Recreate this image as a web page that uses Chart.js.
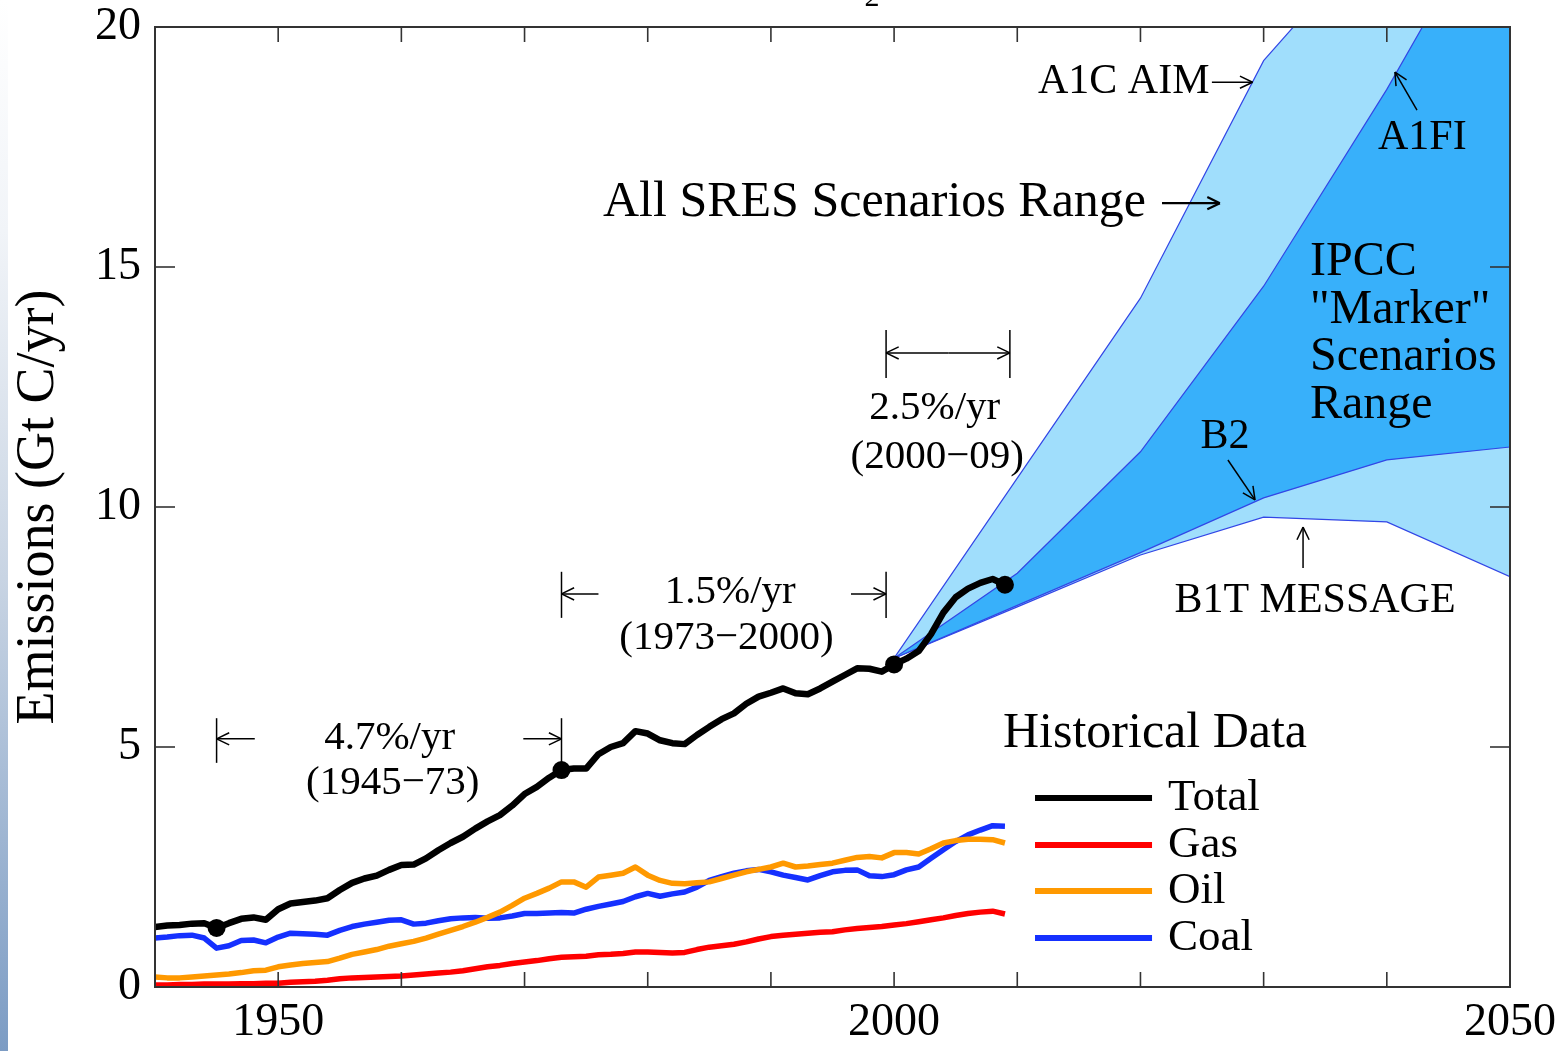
<!DOCTYPE html>
<html>
<head>
<meta charset="utf-8">
<script src="https://cdn.jsdelivr.net/npm/chart.js@4.4.1/dist/chart.umd.min.js"></script>
<style>
  html, body { margin: 0; padding: 0; background: #fff; overflow: hidden; }
  #wrap { position: relative; width: 1568px; height: 1051px; }
  #stripe { position: absolute; left: 0; top: 0; width: 8px; height: 1051px;
    background: linear-gradient(to bottom, #ffffff 0%, #f1f4f8 22%, #c8d4e3 55%, #7c9cc4 100%); }
  canvas { position: absolute; left: 0; top: 0; }
</style>
</head>
<body>
<div id="wrap"><div id="stripe"></div><canvas id="chart" width="1568" height="1051"></canvas></div>
<script>
// historical data, Gt C / yr, 1940-2009
const years = [];
for (let y = 1940; y <= 2009; y++) years.push(y);

const total = [1.25, 1.28, 1.29, 1.32, 1.33, 1.23, 1.33, 1.42, 1.45, 1.40,
  1.62, 1.74, 1.77, 1.80, 1.85, 2.02, 2.17, 2.26, 2.32, 2.44,
  2.54, 2.55, 2.68, 2.85, 3.00, 3.13, 3.30, 3.45, 3.58, 3.78,
  4.02, 4.17, 4.36, 4.52, 4.55, 4.55, 4.85, 5.00, 5.08, 5.33,
  5.28, 5.14, 5.08, 5.06, 5.25, 5.42, 5.58, 5.70, 5.90, 6.05,
  6.13, 6.22, 6.12, 6.10, 6.22, 6.36, 6.50, 6.64, 6.63, 6.57,
  6.72, 6.84, 7.00, 7.35, 7.80, 8.12, 8.30, 8.42, 8.50, 8.38];

const gas = [0.04, 0.04, 0.05, 0.05, 0.06, 0.06, 0.06, 0.07, 0.07, 0.08,
  0.08, 0.10, 0.11, 0.12, 0.14, 0.17, 0.19, 0.20, 0.21, 0.22,
  0.23, 0.25, 0.27, 0.29, 0.31, 0.34, 0.38, 0.42, 0.45, 0.49,
  0.52, 0.55, 0.59, 0.62, 0.63, 0.64, 0.67, 0.68, 0.70, 0.73,
  0.73, 0.72, 0.71, 0.72, 0.78, 0.83, 0.86, 0.89, 0.94, 1.00,
  1.05, 1.08, 1.10, 1.12, 1.14, 1.15, 1.19, 1.22, 1.24, 1.26,
  1.29, 1.32, 1.36, 1.40, 1.44, 1.49, 1.53, 1.56, 1.58, 1.52];

const oil = [0.21, 0.19, 0.19, 0.21, 0.23, 0.25, 0.27, 0.30, 0.34, 0.35,
  0.42, 0.46, 0.49, 0.51, 0.53, 0.60, 0.68, 0.73, 0.78, 0.85,
  0.90, 0.95, 1.02, 1.10, 1.18, 1.26, 1.35, 1.45, 1.56, 1.70,
  1.85, 1.95, 2.06, 2.19, 2.19, 2.08, 2.29, 2.33, 2.37, 2.50,
  2.33, 2.22, 2.16, 2.15, 2.17, 2.19, 2.26, 2.33, 2.40, 2.45,
  2.50, 2.58, 2.50, 2.52, 2.55, 2.58, 2.64, 2.70, 2.72, 2.69,
  2.80, 2.80, 2.77, 2.88, 3.00, 3.05, 3.08, 3.08, 3.07, 3.00];

const coal = [1.02, 1.04, 1.07, 1.08, 1.02, 0.81, 0.86, 0.97, 0.98, 0.92,
  1.04, 1.12, 1.11, 1.10, 1.08, 1.18, 1.26, 1.31, 1.35, 1.39,
  1.40, 1.31, 1.33, 1.38, 1.42, 1.44, 1.45, 1.43, 1.44, 1.48,
  1.53, 1.53, 1.54, 1.55, 1.54, 1.62, 1.68, 1.73, 1.78, 1.88,
  1.95, 1.89, 1.94, 1.98, 2.08, 2.22, 2.30, 2.37, 2.42, 2.45,
  2.40, 2.33, 2.28, 2.23, 2.32, 2.40, 2.43, 2.44, 2.32, 2.30,
  2.34, 2.44, 2.50, 2.68, 2.86, 3.03, 3.17, 3.27, 3.36, 3.35];

const markerYears = [1945, 1973, 2000, 2009];

// SRES scenario envelopes
const scenYears = [2000, 2010, 2020, 2030, 2040, 2050];
const sresHigh = [6.85, 10.6, 14.35, 19.3, 22.2, 25.8];   // A1C AIM
const a1fi     = [6.85, 8.62, 11.15, 14.6, 18.7, 23.2];
const b2       = [6.85, 7.95, 9.05, 10.19, 10.98, 11.25];
const b1t      = [6.85, 7.92, 9.0, 9.79, 9.69, 8.55];     // B1T MESSAGE

const xTickLabels = [1950, 2000, 2050];
const xMinor = [1950, 1960, 1970, 1980, 1990, 2000, 2010, 2020, 2030, 2040];
const yTickLabels = [0, 5, 10, 15, 20];
const yMinor = [5, 10, 15];

const FONT = '"Liberation Serif", "Times New Roman", serif';
const LIGHT = 'rgb(160,222,252)';
const DARK = 'rgb(56,176,250)';
const EDGE = 'rgb(50,70,230)';

function pts(xs, ys) {
  return xs.map((x, i) => ({ x: x, y: ys[i] }));
}

function histLine(label, values, color, width, order) {
  return {
    label: label, data: pts(years, values), borderColor: color, backgroundColor: color,
    borderWidth: width, pointRadius: 0, fill: false, order: order, borderJoinStyle: 'round'
  };
}

function envLine(label, values, fillTarget, color, order) {
  return {
    label: label, data: pts(scenYears, values), borderColor: EDGE, borderWidth: 1.2,
    backgroundColor: color, pointRadius: 0, fill: fillTarget, order: order
  };
}

const overlay = {
  id: 'overlay',
  afterDraw(chart) {
    const ctx = chart.ctx, a = chart.chartArea;
    const xs = chart.scales.x, ys = chart.scales.y;
    const X = v => xs.getPixelForValue(v), Y = v => ys.getPixelForValue(v);

    function seg(x1, y1, x2, y2) {
      ctx.beginPath(); ctx.moveTo(x1, y1); ctx.lineTo(x2, y2); ctx.stroke();
    }
    function head(x1, y1, x2, y2) {
      const ang = Math.atan2(y2 - y1, x2 - x1), L = 14;
      seg(x2, y2, x2 - L * Math.cos(ang - 0.45), y2 - L * Math.sin(ang - 0.45));
      seg(x2, y2, x2 - L * Math.cos(ang + 0.45), y2 - L * Math.sin(ang + 0.45));
    }
    function arrow(x1, y1, x2, y2) {
      const p1 = [X(x1), Y(y1)], p2 = [X(x2), Y(y2)];
      seg(p1[0], p1[1], p2[0], p2[1]);
      head(p1[0], p1[1], p2[0], p2[1]);
    }
    function bar(x, v1, v2) { seg(X(x), Y(v1), X(x), Y(v2)); }
    function text(s, x, v, size, align) {
      ctx.font = size + 'px ' + FONT;
      ctx.textAlign = align || 'center';
      ctx.textBaseline = 'middle';
      ctx.fillText(s, X(x), Y(v));
    }

    ctx.save();
    // frame and inward ticks
    ctx.strokeStyle = '#333';
    ctx.lineWidth = 2;
    ctx.strokeRect(a.left, a.top, a.right - a.left, a.bottom - a.top);
    ctx.lineWidth = 1.6;
    xMinor.forEach(v => {
      seg(X(v), a.bottom, X(v), a.bottom - 15);
      seg(X(v), a.top, X(v), a.top + 15);
    });
    yMinor.forEach(v => {
      seg(a.left, Y(v), a.left + 20, Y(v));
      seg(a.right, Y(v), a.right - 20, Y(v));
    });

    // growth-rate brackets
    ctx.strokeStyle = '#000';
    ctx.fillStyle = '#000';
    ctx.lineWidth = 1.5;
    bar(1945, 5.60, 4.67); bar(1973, 5.60, 4.67);
    arrow(1948.1, 5.17, 1945, 5.17); arrow(1969.9, 5.17, 1973, 5.17);
    bar(1973, 8.65, 7.69); bar(1999.35, 8.65, 7.69);
    arrow(1976, 8.19, 1973, 8.19); arrow(1996.5, 8.19, 1999.35, 8.19);
    bar(1999.35, 13.69, 12.69); bar(2009.4, 13.69, 12.69);
    arrow(2004.4, 13.21, 1999.35, 13.21); arrow(2004.4, 13.21, 2009.4, 13.21);

    text('4.7%/yr', 1959.05, 5.19, 41);
    text('(1945\u221273)', 1959.3, 4.25, 41);
    text('1.5%/yr', 1986.7, 8.23, 41);
    text('(1973\u22122000)', 1986.4, 7.27, 41);
    text('2.5%/yr', 2003.3, 12.06, 41);
    text('(2000\u221209)', 2003.5, 11.04, 41);

    // scenario labels
    text('All SRES Scenarios Range', 1976.37, 16.33, 50, 'left');
    ctx.lineWidth = 2.2;
    arrow(2021.75, 16.33, 2026.45, 16.33);
    ctx.lineWidth = 1.5;
    text('A1C AIM', 2011.68, 18.85, 42, 'left');
    arrow(2025.8, 18.85, 2029.1, 18.85);
    text('A1FI', 2039.28, 17.69, 42, 'left');
    arrow(2042.45, 18.27, 2040.66, 19.06);
    text('IPCC', 2033.76, 15.10, 48, 'left');
    text('"Marker"', 2033.76, 14.10, 48, 'left');
    text('Scenarios', 2033.76, 13.125, 48, 'left');
    text('Range', 2033.76, 12.125, 48, 'left');
    text('B2', 2026.86, 11.46, 42);
    arrow(2027.1, 10.98, 2029.3, 10.15);
    text('B1T MESSAGE', 2034.17, 8.04, 42);
    arrow(2033.2, 8.73, 2033.2, 9.58);

    // legend
    text('Historical Data', 2008.84, 5.27, 50, 'left');
    const rows = [3.94, 2.96, 2.0, 1.02];
    [0, 1, 2, 3].forEach((di, i) => {
      const ds = chart.data.datasets[di];
      ctx.strokeStyle = ds.borderColor;
      ctx.lineWidth = 6;
      seg(X(2011.44), Y(rows[i]), X(2020.94), Y(rows[i]));
      ctx.fillStyle = '#000';
      text(ds.label, 2022.24, rows[i], 45, 'left');
    });

    // clipped title subscript at the top edge
    ctx.font = '30px ' + FONT;
    ctx.textAlign = 'center';
    ctx.textBaseline = 'alphabetic';
    ctx.fillText('2', X(1998.2), a.top - 21);
    ctx.restore();
  }
};

new Chart(document.getElementById('chart').getContext('2d'), {
  type: 'line',
  data: {
    datasets: [
      histLine('Total', total, '#000000', 6.5, 1),
      histLine('Gas', gas, '#ff0000', 5.5, 2),
      histLine('Oil', oil, '#ff9900', 5.5, 3),
      histLine('Coal', coal, '#1530ff', 5.5, 4),
      {
        label: 'markers',
        data: markerYears.map(y => ({ x: y, y: total[years.indexOf(y)] })),
        showLine: false, pointRadius: 9, pointBackgroundColor: '#000', pointBorderWidth: 0, order: 0
      },
      envLine('A1FI', a1fi, 6, DARK, 7),
      envLine('B2', b2, false, DARK, 6),
      envLine('A1C AIM', sresHigh, 8, LIGHT, 9),
      envLine('B1T MESSAGE', b1t, false, LIGHT, 8)
    ]
  },
  options: {
    responsive: false,
    animation: false,
    devicePixelRatio: 1,
    layout: { padding: { top: 27, right: 58, left: 0, bottom: 0 } },
    plugins: { legend: { display: false }, tooltip: { enabled: false } },
    scales: {
      x: {
        type: 'linear', min: 1940, max: 2050,
        grid: { display: false, drawTicks: false },
        border: { display: false },
        afterBuildTicks: s => { s.ticks = xTickLabels.map(v => ({ value: v })); },
        afterFit: s => { s.height = 64; },
        ticks: { color: '#000', padding: 8, maxRotation: 0, autoSkip: false,
          font: { family: FONT, size: 46 }, callback: v => String(v) }
      },
      y: {
        min: 0, max: 20,
        grid: { display: false, drawTicks: false },
        border: { display: false },
        afterBuildTicks: s => { s.ticks = yTickLabels.map(v => ({ value: v })); },
        afterFit: s => { s.width = 155; },
        ticks: { color: '#000', padding: 14, font: { family: FONT, size: 46, lineHeight: 0.5 } },
        title: { display: true, text: 'Emissions (Gt C/yr)', color: '#000',
          padding: { top: 6, bottom: 0 }, font: { family: FONT, size: 54 } }
      }
    }
  },
  plugins: [overlay]
});
</script>
</body>
</html>
